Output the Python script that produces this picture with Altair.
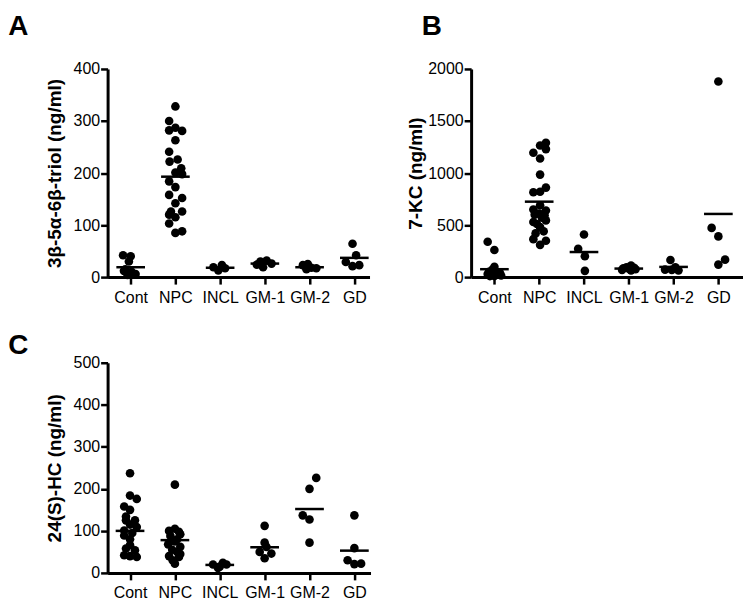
import altair as alt
import pandas as pd

cats = ["Cont", "NPC", "INCL", "GM-1", "GM-2", "GD"]

# ---------- Panel A: 3beta-5alpha-6beta-triol (ng/ml) ----------
a_cont = [42, 40, 30, 15, 12, 10, 6, 4]
a_cont_j = [-0.17, 0.0, -0.04, -0.12, -0.15, 0.02, 0.11, -0.07]
a_npc = [328, 300, 282, 287, 281, 263, 241, 222, 226, 209, 201, 198, 184, 173,
         158, 152, 142, 126, 126, 120, 115, 103, 85, 88]
a_npc_j = [0.0, -0.14, -0.14, 0.0, 0.15, 0.0, -0.14, -0.13, 0.05, 0.13, 0.0, 0.15,
           -0.14, 0.0, -0.14, 0.15, 0.0, 0.15, -0.1, -0.14, 0.0, -0.14, 0.0, 0.15]
a_incl = [19, 23, 13, 17]
a_incl_j = [-0.15, 0.04, -0.04, 0.11]
a_gm1 = [30, 32, 19, 26, 24]
a_gm1_j = [-0.1, 0.04, -0.04, 0.15, -0.18]
a_gm2 = [23, 25, 18, 15, 17]
a_gm2_j = [-0.15, -0.04, 0.04, -0.07, 0.15]
a_gd = [64, 42, 29, 21, 23]
a_gd_j = [-0.04, 0.04, -0.19, -0.04, 0.11]
a_means = [19, 193, 18, 26, 19, 37]

# ---------- Panel B: 7-KC (ng/ml) ----------
b_cont = [340, 260, 100, 70, 50, 45, 40, 30, 25, 20, 15, 10, 10]
b_cont_j = [-0.15, 0.0, 0.0, -0.05, -0.12, 0.12, 0.05, -0.15, 0.1, -0.05, 0.15, 0.0, -0.1]
b_npc = [1290, 1265, 1230, 1195, 1140, 985, 860, 820, 815, 690, 650, 640, 610,
         600, 595, 570, 545, 530, 510, 480, 440, 420, 365, 350, 310]
b_npc_j = [0.15, 0.02, 0.15, -0.13, 0.02, 0.02, 0.15, 0.02, -0.13, 0.02, -0.13, 0.15,
           0.0, -0.1, 0.12, 0.06, 0.15, -0.13, -0.05, 0.02, 0.1, -0.08, -0.13, 0.15, 0.02]
b_incl = [410, 273, 200, 60]
b_incl_j = [0.0, -0.13, 0.02, 0.02]
b_gm1 = [110, 95, 90, 85, 80, 75, 70, 65]
b_gm1_j = [0.05, -0.05, 0.12, -0.12, 0.0, 0.15, -0.15, 0.05]
b_gm2 = [165, 72, 70, 65, 95]
b_gm2_j = [-0.07, -0.19, -0.04, 0.11, 0.04]
b_gd = [1880, 473, 391, 168, 120]
b_gd_j = [0.0, -0.15, 0.0, 0.15, 0.0]
b_means = [76, 725, 241, 82, 98, 607]

# ---------- Panel C: 24(S)-HC (ng/ml) ----------
c_cont = [237, 184, 176, 158, 150, 134, 125, 125, 115, 109, 101, 95, 89, 80,
          66, 58, 54, 42, 40, 38]
c_cont_j = [0.0, 0.0, 0.15, -0.13, 0.0, -0.09, 0.11, -0.09, 0.0, 0.15, -0.13, 0.05,
            -0.13, 0.0, 0.0, -0.09, 0.11, -0.13, 0.0, 0.15]
c_npc = [210, 105, 100, 98, 92, 88, 80, 75, 68, 62, 55, 50, 45, 40, 38, 30, 22]
c_npc_j = [0.0, 0.0, -0.13, 0.09, 0.12, -0.1, 0.05, 0.0, -0.15, 0.12, -0.06, 0.05,
           0.12, -0.13, 0.09, -0.05, 0.0]
c_incl = [20, 12, 24, 20, 15]
c_incl_j = [-0.15, -0.04, 0.07, 0.15, 0.0]
c_gm1 = [112, 72, 62, 50, 46, 35]
c_gm1_j = [0.0, 0.0, 0.04, -0.11, 0.15, 0.0]
c_gm2 = [226, 200, 137, 127, 72]
c_gm2_j = [0.15, 0.0, -0.15, 0.0, 0.0]
c_gd = [137, 59, 30, 21, 22]
c_gd_j = [0.0, 0.0, -0.15, 0.0, 0.15]
c_means = [100, 78, 19, 61, 152, 53]

FONT = "Liberation Sans"


def build(groups):
    rows = []
    for i, (vals, jits) in enumerate(groups):
        for v, j in zip(vals, jits):
            rows.append({"idx": i, "jit": j, "value": v})
    return pd.DataFrame(rows)


label_expr = "[" + ",".join("'%s'" % c for c in cats) + "][datum.value]"


def panel(df, means, ymax, ystep, ytitle, width, height, xdom, letter, ldx, loff, tpad):
    xs = alt.Scale(domain=xdom, nice=False, zero=False)
    ys = alt.Scale(domain=[0, ymax], nice=False, zero=True)
    xa = alt.Axis(values=list(range(len(cats))), labelExpr=label_expr, title=None,
                  grid=False, labelPadding=5)
    ya = alt.Axis(values=list(range(0, ymax + 1, ystep)), title=ytitle, grid=False,
                  titlePadding=tpad, labelPadding=1, format="d")
    pts = alt.Chart(df).transform_calculate(
        pos="datum.idx + datum.jit"
    ).mark_circle(size=75, color="black", opacity=1).encode(
        x=alt.X("pos:Q", scale=xs, axis=xa),
        y=alt.Y("value:Q", scale=ys, axis=ya),
    )
    mdf = pd.DataFrame({"idx": list(range(len(cats))), "value": means})
    ml = alt.Chart(mdf).transform_calculate(
        pos="datum.idx - 0.32", pos2="datum.idx + 0.32"
    ).mark_rule(color="black", strokeWidth=2.5).encode(
        x=alt.X("pos:Q", scale=xs, axis=xa),
        x2="pos2:Q",
        y=alt.Y("value:Q", scale=ys, axis=ya),
    )
    return alt.layer(pts, ml).properties(
        width=width, height=height,
        title=alt.TitleParams(text=letter, dx=ldx, offset=loff),
    )


dfA = build([(a_cont, a_cont_j), (a_npc, a_npc_j), (a_incl, a_incl_j),
             (a_gm1, a_gm1_j), (a_gm2, a_gm2_j), (a_gd, a_gd_j)])
dfB = build([(b_cont, b_cont_j), (b_npc, b_npc_j), (b_incl, b_incl_j),
             (b_gm1, b_gm1_j), (b_gm2, b_gm2_j), (b_gd, b_gd_j)])
dfC = build([(c_cont, c_cont_j), (c_npc, c_npc_j), (c_incl, c_incl_j),
             (c_gm1, c_gm1_j), (c_gm2, c_gm2_j), (c_gd, c_gd_j)])

pA = panel(dfA, a_means, 400, 100, "3β-5α-6β-triol (ng/ml)", 263, 209,
           [-0.516, 5.34], "A", -37, 20, 9)
pB = panel(dfB, b_means, 2000, 500, "7-KC (ng/ml)", 273, 209,
           [-0.52, 5.55], "B", 15, 20, 2)
pC = panel(dfC, c_means, 500, 100, "24(S)-HC (ng/ml)", 264, 211,
           [-0.5, 5.36], "C", -37, -5, 9)

chart = alt.vconcat(
    alt.hconcat(pA, pB, spacing=36),
    pC,
    spacing=27,
).configure_view(stroke=None).configure_axis(
    domainColor="black", domainWidth=3, tickColor="black", tickWidth=2.5,
    tickSize=7, labelFont=FONT, labelFontSize=16, labelColor="black",
    titleFont=FONT, titleFontSize=19, titleFontWeight="bold", titleColor="black",
    grid=False,
).configure_title(
    font=FONT, fontSize=28, fontWeight="bold", anchor="start", color="black",
).properties(padding={"left": 0, "top": 4, "right": 0, "bottom": 0})

chart.save("out.html", embed_options={"renderer": "svg", "actions": False})
